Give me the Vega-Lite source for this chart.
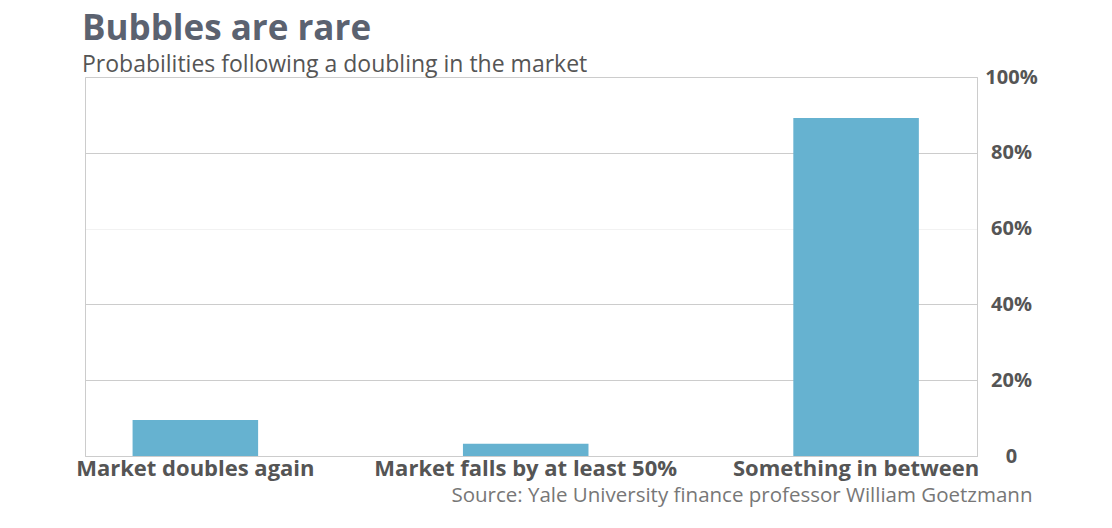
{
  "$schema": "https://vega.github.io/schema/vega-lite/v6.json",
  "width": 892,
  "height": 379,
  "autosize": "none",
  "padding": {"left": 85, "top": 77, "right": 135, "bottom": 72},
  "background": "white",
  "title": {
    "text": "Bubbles are rare",
    "subtitle": "Probabilities following a doubling in the market",
    "anchor": "start",
    "frame": "group",
    "dx": -3,
    "offset": -10,
    "font": "Open Sans",
    "fontSize": 35,
    "fontWeight": "bold",
    "color": "#5b6270",
    "subtitleFont": "Open Sans",
    "subtitleFontSize": 23,
    "subtitleColor": "#555555",
    "subtitlePadding": 7
  },
  "data": {
    "values": [
      {"outcome": "Market doubles again", "probability": 0.095},
      {"outcome": "Market falls by at least 50%", "probability": 0.032},
      {"outcome": "Something in between", "probability": 0.892}
    ]
  },
  "mark": {"type": "bar", "color": "#66b2d0"},
  "encoding": {
    "x": {
      "field": "outcome",
      "type": "nominal",
      "sort": null,
      "scale": {"paddingInner": 0.62, "paddingOuter": 0.16, "align": 0.45},
      "axis": {
        "title": "Source: Yale University finance professor William Goetzmann",
        "titleAnchor": "end",
        "titleAlign": "right",
        "titleX": 947,
        "titleY": 29,
        "titleFont": "Open Sans",
        "titleFontSize": 20.5,
        "titleFontWeight": "normal",
        "titleColor": "#777777",
        "labelAngle": 0,
        "labelFont": "Open Sans",
        "labelFontSize": 22,
        "labelFontWeight": "bold",
        "labelColor": "#555555",
        "labelPadding": 2,
        "labelLimit": 0,
        "labelOverlap": false,
        "ticks": false,
        "domainColor": "#cccccc",
        "grid": false
      }
    },
    "y": {
      "field": "probability",
      "type": "quantitative",
      "scale": {"domain": [0, 1]},
      "axis": {
        "orient": "right",
        "title": null,
        "values": [0, 0.2, 0.4, 0.6, 0.8, 1],
        "labelExpr": "datum.value == 0 ? '0' : format(datum.value, '.0%')",
        "labelFont": "Open Sans",
        "labelFontSize": 20,
        "labelFontWeight": "bold",
        "labelColor": "#555555",
        "labelAlign": "center",
        "labelPadding": 34,
        "ticks": false,
        "domainColor": "#cccccc",
        "grid": true,
        "gridColor": "#cccccc",
        "gridOpacity": {"condition": {"test": "datum.value == 0.6", "value": 0.25}, "value": 1}
      }
    }
  },
  "config": {
    "view": {"stroke": "#cccccc"}
  }
}
